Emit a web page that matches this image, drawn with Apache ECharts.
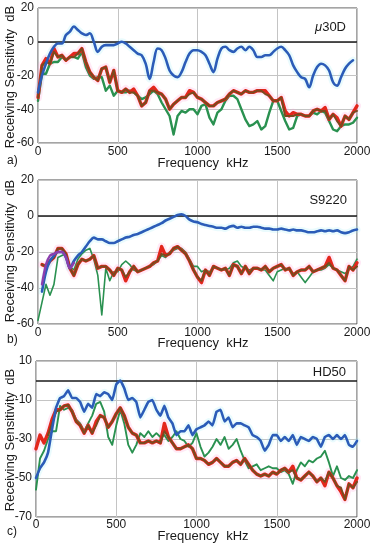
<!DOCTYPE html>
<html><head><meta charset="utf-8">
<script src="https://cdn.jsdelivr.net/npm/echarts@6.0.0/dist/echarts.min.js"></script>
<style>html,body{margin:0;padding:0;background:#fff}#c{width:376px;height:550px}</style>
</head><body><div id="c"></div>
<script>
// Frequency grid (kHz)
const freq = [0,25,50,75,100,125,150,175,200,225,250,275,300,325,350,375,400,425,450,475,500,525,550,575,600,625,650,675,700,725,750,775,800,825,850,875,900,925,950,975,1000,1025,1050,1075,1100,1125,1150,1175,1200,1225,1250,1275,1300,1325,1350,1375,1400,1425,1450,1475,1500,1525,1550,1575,1600,1625,1650,1675,1700,1725,1750,1775,1800,1825,1850,1875,1900,1925,1950,1975,2000];
const xTicks = [0,500,1000,1500,2000];
const titles = ['μ30D','S9220','HD50'];
const panelTags = ['a)','b)','c)'];

// Panel a) μ30D
const aBlue = [-30,-20,-13,-7,-3,-1,-1,4,6,9,7,5,4,5,0,-6,-3,-2,-2,-2,-1,0,-1,-3,-5,-7,-8,-13,-22,-12,-4,-5,-10,-17,-20,-21,-18,-12,-7,-5,-5,-6,-8,-13,-18,-10,-4,-3,-5,-6,-4,-3,-5,-3,-5,-9,-9,-8,-8,-6,-4,-3,-5,-8,-14,-18,-21,-22,-27,-20,-15,-13,-14,-17,-24,-26,-21,-16,-13,-11,null];
const aRed = [-33,-14,-10,-13,-4,-9,-8,-11,-9,-7,-7,-4,-12,-18,-21,-23,-16,-15,-24,-17,-29,-30,-28,-30,-28,-32,-38,-36,-29,-27,-30,-31,-34,-40,-37,-35,-33,-33,-29,-30,-33,-34,-36,-38,-38,-36,-35,-34,-31,-29,-30,-31,-29,-30,-30,-29,-29,-29,-32,-35,-35,-33,-41,-44,-42,-43,-43,-44,-44,-41,-40,-41,-39,-46,-43,-45,-50,-44,-46,-42,-38];
const aBrown = [-33,-14,-12,-13,-6,-9,-8,-11,-9,-9,-7,-4,-12,-18,-21,-23,-16,-15,-24,-17,-29,-30,-28,-30,-30,-32,-38,-36,-29,-29,-30,-31,-34,-40,-37,-35,-33,-33,-31,-30,-33,-34,-36,-38,-38,-36,-35,-34,-31,-29,-30,-31,-29,-30,-30,-29,-29,-31,-32,-35,-35,-33,-44,-44,-44,-43,-43,-44,-44,-41,-40,-41,-41,-46,-43,-47,-50,-44,-46,-42,-41];
const aGreen = [-35,-19,-19,-13,-12,-12,-9,-11,-9,-9,-10,-6,-15,-20,-22,-21,-21,-29,-26,-32,-29,-30,-30,-29,-30,-32,-34,-33,-31,-29,-31,-36,-40,-44,-55,-44,-41,-42,-40,-40,-43,-38,-37,-45,-49,-42,-40,-35,-32,-32,-34,-40,-46,-50,-49,-47,-52,-50,-42,-35,-35,-41,-47,-52,-51,-44,-43,-44,-44,-42,-43,-41,-42,-47,-52,-53,-50,-49,-49,-48,-45];

// Panel b) S9220
const bBlue = [null,-42,-31,-25,-22,-20,-20,-23,-29,-25,-22,-20,-17,-14,-12,-13,-13,-14,-15,-15,-14,-13,-12,-11.5,-10.5,-10,-9,-8,-7,-6,-5,-4,-2.5,-1.5,-0.5,0.5,1,0,-2,-3,-3.5,-4.5,-5,-5.5,-6,-6.5,-6.5,-7,-6,-5.5,-6.5,-6,-6.5,-6.5,-6,-6,-6.5,-7,-7,-7.5,-7.5,-7,-7.5,-8,-7.5,-8,-8,-8.5,-9,-9,-8.5,-8,-8.5,-8,-8.5,-8,-9,-9.5,-9,-8,-7.5];
const bPurple = [null,-38,-27,-22,-21,-20,-20,-23,-29,-26];
const bRed = [null,-27,-28,-25,-23,-18,-18,-21,-29,-33,-27,-24,-25,-24,-22,-29,-28,-28,-30,-33,-29,-30,-36,-31,-28,-31,-30,-29,-28,-26,-25,-17,-22,-21,-18,-17,-19,-21,-25,-30,-34,-37,-30,-33,-28,-29,-30,-29,-33,-27,-28,-32,-28,-32,-29,-29,-30,-28,-31,-29,-28,-27,-30,-29,-33,-31,-30,-30,-28,-31,-30,-29,-28,-23,-29,-30,-33,-36,-28,-30,-26];
const bBrown = [null,-27,-28,-25,-23,-18,-18,-21,-29,-33,-27,-24,-25,-24,-22,-29,-28,-28,-30,-33,-29,-30,-34,-31,-28,-31,-30,-29,-28,-26,-25,-21,-22,-21,-18,-17,-19,-21,-25,-30,-34,-36,-30,-33,-28,-29,-30,-29,-33,-27,-28,-32,-28,-32,-29,-29,-30,-28,-31,-29,-28,-27,-30,-29,-33,-31,-30,-30,-28,-31,-30,-29,-28,-26,-29,-30,-33,-36,-28,-30,-28];
const bGreen = [-58,-48,-38,-44,-38,-23,-22,-21,-28,-30,-24,-21,-19,-18,-24,-33,-55,-29,-36,-31,-31,-27,-25,-27,-30,-31,-30,-29,-28,-27,-25,-22,-23,-20,-19,-18,-18,-20,-24,-28,-28,-31,-30,-31,-29,-29,-30,-30,-29,-26,-25,-28,-29,-30,-29,-29,-30,-30,-33,-36,-31,-30,-29,-30,-32,-31,-34,-37,-34,-31,-30,-30,-29,-27,-29,-30,-31,-32,-30,-28,-24];

// Panel c) HD50
const cBlue = [-50,-45,-42,-37,-25,-14,-9,-8,-5,-9,-9,-11,-16,-12,-14,-7,-8,-6,-7,-10,-2,0,-4,-10,-9,-11,-19,-15,-11,-10,-15,-18,-13,-19,-22,-28,-26,-26,-23,-28,-25,-24,-23,-21,-23,-16,-15,-21,-19,-24,-22,-22,-23,-24,-28,-29,-31,-36,-33,-28,-28,-31,-29,-31,-28,-33,-29,-30,-31,-29,-30,-34,-29,-28,-30,-28,-30,-28,-33,-34,-31];
const cRed = [-35,-28,-32,-27,-20,-15,-15,-13,-12.5,-16,-21,-23,-27,-23,-27,-21,-18,-19,-24,-21,-17,-14,-18,-24,-27,-28,-32,-32,-31,-32,-31,-32,-22,-29,-32,-35,-35,-34,-33,-35,-40,-40,-41,-43,-42,-40,-42,-44,-44,-42,-41,-43,-40,-43,-46,-48,-49,-48,-49,-47,-48,-46,-45,-47,-44,-50,-51,-49,-47,-49,-52,-50,-54,-47,-50,-54,-57,-61,-53,-55,-50];
const cBrown = [null,null,null,-28,-22,-16,-15,-13,-12.5,-16,-21,-23,-27,-23,-27,-23,-18,-19,-24,-21,-17,-14,-18,-24,-27,-28,-32,-32,-31,-32,-31,-32,-26,-29,-32,-35,-35,-34,-33,-35,-40,-40,-41,-43,-42,-40,-42,-44,-44,-42,-41,-43,-40,-43,-46,-48,-49,-48,-49,-47,-48,-46,-45,-47,-46,-50,-51,-49,-47,-49,-52,-50,-52,-47,-50,-54,-55,-61,-53,-55,-52];
const cGreen = [-56,-40,-36,-30,-26,-26,-13,-15,-14,-15,-20,-22,-26,-22,-18,-12,-11,-16,-29,-33,-23,-15,-22,-33,-37,-33,-27,-29,-26,-29,-27,-29,-28,-31,-29,-26,-30,-31,-34,-32,-27,-34,-39,-37,-34,-30,-33,-29,-35,-33,-30,-36,-41,-45,-44,-43,-46,-45,-44,-45,-45,-47,-46,-48,-53,-46,-42,-44,-41,-42,-40,-39,-36,-42,-49,-44,-50,-51,-49,-50,-46];

const yRanges = [[-60,20],[-60,20],[-70,10]];

const pair = arr => freq.map((f,i) => [f, arr[i] === undefined ? null : arr[i]]);

const chart = echarts.init(document.getElementById('c'), null, {renderer:'canvas'});
const grids = [
  {left:38, top:8, width:319, height:135},
  {left:38, top:180, width:319, height:144},
  {left:36, top:361, width:321, height:156}
];
const COL = {blue:'#2b5cb8', red:'#e3261c', brown:'#7a4a1e', green:'#2a9150', purple:'#8b3fae'};

function line(idx, data, color, width, z, smooth) {
  return {type:'line', xAxisIndex:idx, yAxisIndex:idx, data:pair(data), showSymbol:false, symbol:'none',
    connectNulls:false, smooth:smooth, z:z, silent:true,
    lineStyle:{color:color, width:width, join:'round', cap:'round'}};
}

const series = [];
const panels = [
  {blue:aBlue, red:aRed, brown:aBrown, green:aGreen, gw:2.4, bs:0.35},
  {blue:bBlue, red:bRed, brown:bBrown, green:bGreen, gw:1.6, purple:bPurple, bs:0.3},
  {blue:cBlue, red:cRed, brown:cBrown, green:cGreen, gw:1.9, bs:0.1}
];
panels.forEach((p, i) => {
  series.push(line(i, p.red, 'rgba(255,160,215,0.22)', 8, 1, false));
  series.push(line(i, p.blue, 'rgba(150,235,245,0.2)', 7, 1, p.bs));
  series.push(line(i, p.green, COL.green, p.gw, 3, false));
  series.push(line(i, p.red, COL.red, 3.4, 4, false));
  series.push(line(i, p.brown, COL.brown, 2, 5, false));
  const b = line(i, p.blue, COL.blue, 2.6, 6, p.bs);
  b.markLine = {silent:true, symbol:'none', label:{show:false}, animation:false,
    lineStyle:{color:'#1a1a1a', width:1.5, type:'solid'}, data:[{yAxis:0}]};
  series.push(b);
  if (p.purple) series.push(line(i, p.purple, COL.purple, 2.4, 7, 0.3));
});

const font = '"Liberation Sans", Arial, sans-serif';
const graphics = [];
const yLabelCenters = [77, 251, 440];
const xNameY = [163, 343, 536];
const tagY = [161, 340, 532];
const titleY = [27, 200, 372];
for (let i = 0; i < 3; i++) {
  graphics.push({type:'text', x:10, y:yLabelCenters[i], rotation:Math.PI/2,
    style:{text:'Receiving Sensitivity  dB', font:'13px ' + font, fill:'#1a1a1a', textAlign:'center', textVerticalAlign:'middle'}});
  graphics.push({type:'text', x:203, y:xNameY[i],
    style:{text:'Frequency  kHz', font:'13px ' + font, fill:'#1a1a1a', textAlign:'center', textVerticalAlign:'middle'}});
  graphics.push({type:'text', x:7, y:tagY[i],
    style:{text:panelTags[i], font:'12px ' + font, fill:'#1a1a1a', textAlign:'left', textVerticalAlign:'middle'}});
}
graphics.push({type:'text', x:346, y:titleY[0], style:{text:'{i|μ}30D', font:'13px ' + font, fill:'#1a1a1a', textAlign:'right', textVerticalAlign:'middle', rich:{i:{fontStyle:'italic', fontSize:13, fontFamily:font}}}});
graphics.push({type:'text', x:347, y:titleY[1], style:{text:titles[1], font:'13px ' + font, fill:'#1a1a1a', textAlign:'right', textVerticalAlign:'middle'}});
graphics.push({type:'text', x:346, y:titleY[2], style:{text:titles[2], font:'13px ' + font, fill:'#1a1a1a', textAlign:'right', textVerticalAlign:'middle'}});

const xMargins = [3, 3, 2];
chart.setOption({
  animation:false,
  backgroundColor:'#fff',
  grid: grids.map(g => Object.assign({show:true, borderColor:'#4a4a4a', borderWidth:1, backgroundColor:'transparent'}, g)),
  xAxis: grids.map((g, i) => ({type:'value', gridIndex:i, min:xTicks[0], max:xTicks[xTicks.length-1], interval:500,
    axisLine:{show:false}, axisTick:{show:false},
    axisLabel:{color:'#1a1a1a', fontSize:12, fontFamily:font, margin:xMargins[i], formatter:v => String(v)},
    splitLine:{show:true, lineStyle:{color:'#c4c4c4', width:1}}})),
  yAxis: grids.map((g, i) => ({type:'value', gridIndex:i, min:yRanges[i][0], max:yRanges[i][1], interval:20,
    axisLine:{show:false}, axisTick:{show:false},
    axisLabel:{color:'#1a1a1a', fontSize:12, fontFamily:font, margin:4, formatter:v => String(v)},
    splitLine:{show:true, lineStyle:{color:'#c4c4c4', width:1}}})),
  series: series,
  graphic: graphics
});
</script>
</body></html>
